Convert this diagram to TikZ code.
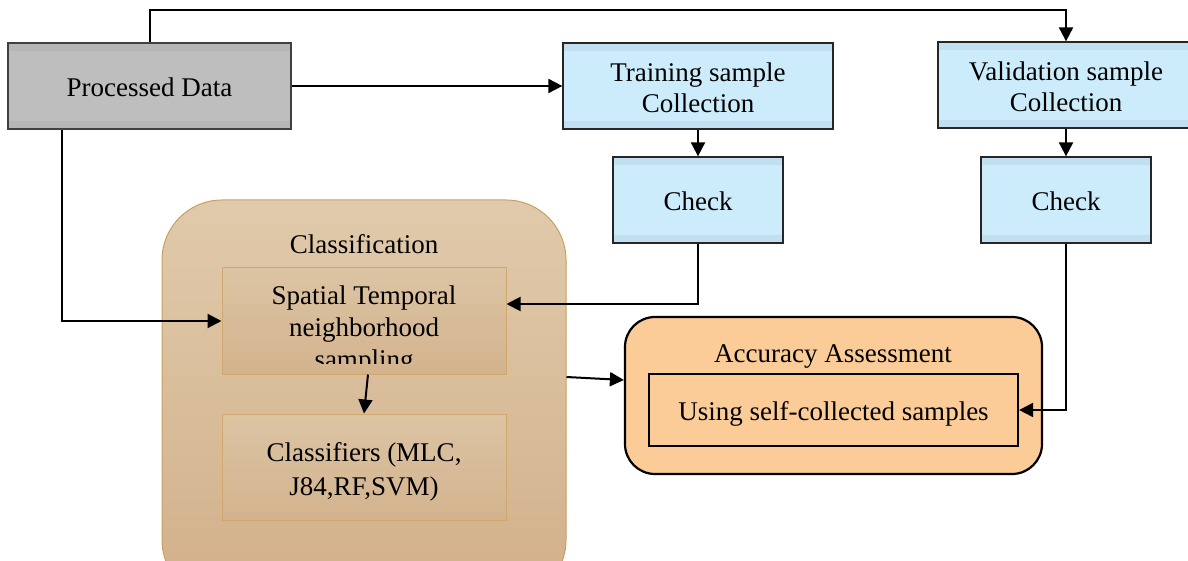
\documentclass[tikz,border=0pt]{standalone}
\usepackage{fontspec}
\setmainfont{Liberation Serif}
\usetikzlibrary{arrows.meta}
\definecolor{bluefill}{HTML}{CCECFB}
\definecolor{blueband}{HTML}{C1DFF0}
\definecolor{grayfill}{HTML}{BEBEBE}
\definecolor{grayband}{HTML}{B6B6B6}
\definecolor{tantop}{HTML}{E0CAAB}
\definecolor{tanbot}{HTML}{D2B08A}
\definecolor{tanedge}{HTML}{C9A063}
\definecolor{boxtop}{HTML}{DCC4A3}
\definecolor{boxbot}{HTML}{D3B38E}
\definecolor{boxedge}{HTML}{D1A76B}
\definecolor{peach}{HTML}{FBCB98}
\newcommand{\lowr}[2]{\raisebox{-#1}[\height][\depth]{#2}}
\tikzset{
  txt/.style={inner sep=0pt, align=center, font=\fontsize{27}{31}\selectfont, text=black},
  band/.style={path picture={
      \fill[#1] (path picture bounding box.north west) rectangle ([yshift=-8pt]path picture bounding box.north east);
      \fill[#1] (path picture bounding box.south west) rectangle ([yshift=8pt]path picture bounding box.south east);}},
  bluebox/.style={txt, draw=black!85, line width=1.3pt, fill=bluefill, band=blueband},
  graybox/.style={txt, draw=black!75, line width=1.3pt, fill=grayfill, band=grayband},
  tanbox/.style={txt, draw=boxedge, line width=1pt, top color=boxtop, bottom color=boxbot},
  container/.style={draw=tanedge, line width=1pt, top color=tantop, bottom color=tanbot, rounded corners=60pt, inner sep=0pt},
  accbox/.style={draw=black, line width=2.2pt, fill=peach, rounded corners=30pt, inner sep=0pt},
  innerbox/.style={txt, draw=black, line width=2.2pt, fill=peach},
  arr/.style={-{Triangle[length=14pt,width=14pt]}, line width=2pt},
}
\begin{document}
\begin{tikzpicture}[x=1pt,y=-1pt]
\useasboundingbox (0,0) rectangle (1188,561);
\clip (0,0) rectangle (1188,561);
\fill[white] (0,0) rectangle (1188,561);
% top boxes
\node[graybox, minimum width=283pt, minimum height=86pt] (pd) at (149.5,86) {\lowr{1pt}{Processed Data}};
\node[bluebox, minimum width=270pt, minimum height=86pt] (train) at (698,86) {\lowr{2pt}{\parbox{260pt}{\centering Training sample\\Collection}}};
\node[bluebox, minimum width=170pt, minimum height=86pt] (chk1) at (698,200) {\lowr{1pt}{Check}};
\node[bluebox, minimum width=256pt, minimum height=86pt] (val) at (1066,85) {\lowr{2pt}{\parbox{250pt}{\centering Validation sample\\Collection}}};
\node[bluebox, minimum width=170pt, minimum height=86pt] (chk2) at (1066,200) {\lowr{1pt}{Check}};
% classification container
\node[container, minimum width=404pt, minimum height=400pt] (cls) at (364,400) {};
\node[txt] (clslabel) at (364,244) {Classification};
\node[tanbox, minimum width=284pt, minimum height=106pt] (spat) at (364,321) {};
\begin{scope}
  \clip (spat.north west) rectangle ([yshift=11pt]spat.south east);
  \node[txt, font=\fontsize{27}{32}\selectfont] (spattxt) at (364,330) {Spatial Temporal\\neighborhood\\sampling};
\end{scope}
\node[tanbox, font=\fontsize{27}{34}\selectfont, minimum width=284pt, minimum height=106pt] (clf) at (364,467) {\lowr{5pt}{\parbox{270pt}{\centering Classifiers (MLC,\\J84,RF,SVM)}}};
% accuracy container
\node[accbox, minimum width=417pt, minimum height=157pt] (acc) at (833.5,395.5) {};
\node[txt] (acclabel) at (833,357) {Accuracy Assessment};
\node[innerbox, minimum width=369pt, minimum height=72pt] (inner) at (833.5,410) {\lowr{4pt}{Using self-collected samples}};
% connectors
\draw[arr] (pd.north) -- ++(0,-32) -| (val.north);
\draw[arr] (pd.east) -- (train.west);
\draw[arr] (train.south) -- (chk1.north);
\draw[arr] (val.south) -- (chk2.north);
\draw[arr] ([xshift=-87.5pt]pd.south) |- (spat.west);
\draw[arr] (chk1.south) |- ([yshift=17pt]spat.east);
\draw[arr] ([xshift=4pt]spat.south) -- (clf.north);
\draw[arr] ([yshift=23pt]cls.east) -- ([yshift=15.5pt]acc.west);
\draw[arr] (chk2.south) |- (inner.east);
\end{tikzpicture}
\end{document}
